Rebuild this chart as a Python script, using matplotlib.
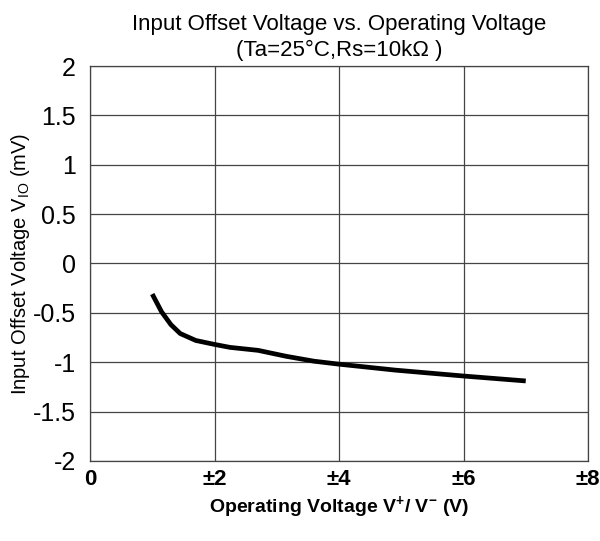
import matplotlib
matplotlib.use("Agg")
import matplotlib.pyplot as plt

# values
supplyV = [1.0, 1.15, 1.3, 1.45, 1.7, 2.0, 2.25, 2.7, 3.15, 3.6, 4.0, 4.9, 6.0, 7.0]
offsetV = [-0.31, -0.49, -0.62, -0.71, -0.78, -0.82, -0.85, -0.88, -0.94, -0.99, -1.02, -1.08, -1.14, -1.19]

xTicks = [0, 2, 4, 6, 8]
xTickLabels = ["0", "\u00b12", "\u00b14", "\u00b16", "\u00b18"]
yTicks = [2, 1.5, 1, 0.5, 0, -0.5, -1, -1.5, -2]
yTickLabels = ["2", "1.5", "1", "0.5", "0", "-0.5", "-1", "-1.5", "-2"]

plt.rcParams["font.family"] = ["Liberation Sans", "DejaVu Sans"]
plt.rcParams["mathtext.fontset"] = "custom"
plt.rcParams["mathtext.rm"] = "Liberation Sans"
plt.rcParams["mathtext.bf"] = "Liberation Sans:bold"

fig = plt.figure(figsize=(6.0, 5.41), dpi=100)
ax = fig.add_axes([0.15, 0.148, 0.83, 0.73])

ax.plot(supplyV, offsetV, color="black", linewidth=3.4, solid_capstyle="butt", zorder=3)

ax.set_xlim(0, 8)
ax.set_ylim(-2, 2)
ax.set_xticks(xTicks)
ax.set_xticklabels(xTickLabels, fontsize=16, fontweight="bold")
ax.set_yticks(yTicks)
ax.set_yticklabels(yTickLabels, fontsize=18)
ax.tick_params(axis="both", length=0)
ax.tick_params(axis="x", pad=6)
ax.tick_params(axis="y", pad=10)
ax.grid(True, color="#444444", linewidth=0.9)
for s in ax.spines.values():
    s.set_color("#444444")
    s.set_linewidth(0.9)

ax.set_xlabel(r"Operating Voltage V$^{\mathbf{+}}$/ V$^{\mathbf{-}}$ (V)", fontsize=14, fontweight="bold", labelpad=3)
ax.set_ylabel(r"Input Offset Voltage V$_{\mathrm{IO}}$ (mV)", fontsize=14.5, labelpad=1)
ax.set_title("Input Offset Voltage vs. Operating Voltage\n(Ta=25\u00b0C,Rs=10k\u03a9 )", fontsize=16, pad=7, linespacing=1.35)

plt.savefig("out.png", dpi=100)
